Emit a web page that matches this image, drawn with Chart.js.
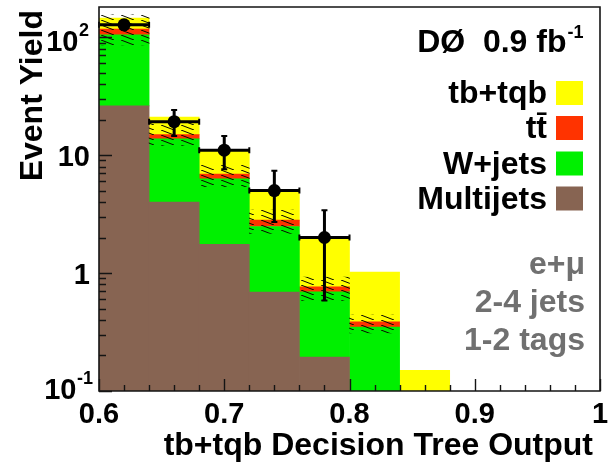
<!DOCTYPE html>
<html><head><meta charset="utf-8">
<script src="https://cdn.jsdelivr.net/npm/chart.js@4.4.1/dist/chart.umd.min.js"></script>
<style>html,body{margin:0;padding:0;background:#fff;}canvas{display:block;}</style>
</head><body>
<canvas id="c" width="614" height="465"></canvas>
<script>
// ---- data ----
const binCenters = [0.62, 0.66, 0.70, 0.74, 0.78, 0.82, 0.86];
const binWidth = 0.04;
const multijets = [26.1, 4.0, 1.75, 0.69, 0.193, 0, 0];
const wjets     = [78.5, 9.7, 4.55, 1.79, 0.50, 0.348, 0];
const ttbar     = [12.3, 1.2, 0.6, 0.33, 0.07, 0.036, 0];
const signal    = [28.0, 6.1, 4.1, 2.17, 1.26, 0.636, 0.149];
const bandLo    = [86, 12.1, 5.4, 2.17, 0.586, 0.31, null];
const bandHi    = [154.6, 19.1, 8.2, 3.41, 0.925, 0.44, null];
const dataX     = [0.62, 0.66, 0.70, 0.74, 0.78];
const dataY     = [127, 19.2, 11.0, 5.0, 2.0];
const dataErrLo = [116, 14.5, 7.6, 2.71, 0.586];
const dataErrHi = [138, 24.1, 14.5, 7.36, 3.41];
const xTickValues = [0.6, 0.7, 0.8, 0.9, 1.0];
const xTickLabels = ['0.6', '0.7', '0.8', '0.9', '1'];
const yTickValues = [0.1, 1, 10, 100];
const yTickLabels = [['10', '-1'], ['1', ''], ['10', ''], ['10', '2']];
const legendLabels = ['tb+tqb', 'tt\u0304', 'W+jets', 'Multijets'];
const infoLines = ['e+\u03bc', '2-4 jets', '1-2 tags'];

const X_MIN = 0.6, X_MAX = 1.0, Y_MIN = 0.1, Y_MAX = 180;
const PAD = { left: 99, right: 14, top: 7, bottom: 74 };
const COLORS = { signal: '#ffff00', ttbar: '#ff3300', wjets: '#00f000', multi: '#876452' };
const AXIS_COLOR = '#141414';
const FONT = '"Liberation Sans", Arial, Helvetica, sans-serif';

// cumulative floating bars
const FLOOR = 0.001;
const series = [multijets, wjets, ttbar, signal];
const seriesColors = [COLORS.multi, COLORS.wjets, COLORS.ttbar, COLORS.signal];
const cum = binCenters.map(() => FLOOR);
const stackDatasets = series.map((vals, s) => {
  const d = binCenters.map((x, i) => {
    const lo = cum[i];
    const hi = cum[i] + vals[i];
    cum[i] = hi;
    return { x: x, y: [lo, hi] };
  });
  return { type: 'bar', data: d, backgroundColor: seriesColors[s], borderWidth: 0, order: 3 };
});

// hatch pattern for the background uncertainty band
function makeHatch() {
  const c = document.createElement('canvas');
  c.width = 20; c.height = 5;
  const g = c.getContext('2d');
  g.strokeStyle = 'rgba(10,10,0,1)';
  g.lineWidth = 1;
  g.beginPath(); g.moveTo(1, 0); g.lineTo(14, 5); g.stroke();
  return g.createPattern(c, 'repeat');
}
const bandData = binCenters.map((x, i) => ({ x: x, y: bandLo[i] == null ? null : [bandLo[i], bandHi[i]] }));

function drawFrameAndTicks(chart) {
  const ctx = chart.ctx;
  const x = chart.scales.x, y = chart.scales.y;
  const L = x.getPixelForValue(X_MIN), R = x.getPixelForValue(X_MAX);
  const B = y.getPixelForValue(Y_MIN), T = y.getPixelForValue(Y_MAX);
  ctx.save();
  ctx.strokeStyle = AXIS_COLOR;
  ctx.lineWidth = 1.4;
  ctx.beginPath();
  for (let k = 0; k <= 20; k++) {
    const px = Math.round(x.getPixelForValue(X_MIN + 0.02 * k)) + 0.5;
    const len = (k % 5 === 0) ? 12 : 6;
    ctx.moveTo(px, B);
    ctx.lineTo(px, B - len);
  }
  for (let d = -1; d <= 2; d++) {
    for (let m = 1; m <= 9; m++) {
      const v = m * Math.pow(10, d);
      if (v > Y_MAX) continue;
      const py = Math.round(y.getPixelForValue(v)) + 0.5;
      const len = (m === 1) ? 13 : 7;
      ctx.moveTo(L, py);
      ctx.lineTo(L + len, py);
    }
  }
  ctx.stroke();
  ctx.lineWidth = 1.6;
  ctx.beginPath();
  ctx.rect(L, T, R - L, B - T);
  ctx.stroke();
  ctx.restore();
}

const overlay = {
  id: 'overlay',
  afterDatasetsDraw(chart) {
    const ctx = chart.ctx;
    const x = chart.scales.x, y = chart.scales.y;
    ctx.save();
    ctx.strokeStyle = '#000';
    dataX.forEach((xv, i) => {
      const px = x.getPixelForValue(xv);
      const xl = x.getPixelForValue(xv - binWidth / 2);
      const xr = x.getPixelForValue(xv + binWidth / 2);
      const py = y.getPixelForValue(dataY[i]);
      const yt = y.getPixelForValue(dataErrHi[i]);
      const yb = y.getPixelForValue(dataErrLo[i]);
      ctx.lineWidth = 3;
      ctx.beginPath();
      ctx.moveTo(xl, py); ctx.lineTo(xr, py);
      ctx.moveTo(px, yt); ctx.lineTo(px, yb);
      ctx.stroke();
      ctx.lineWidth = 2;
      ctx.beginPath();
      ctx.moveTo(xl, py - 3); ctx.lineTo(xl, py + 3);
      ctx.moveTo(xr, py - 3); ctx.lineTo(xr, py + 3);
      ctx.moveTo(px - 3, yt); ctx.lineTo(px + 3, yt);
      ctx.moveTo(px - 3, yb); ctx.lineTo(px + 3, yb);
      ctx.stroke();
    });
    ctx.restore();
  },
  afterDraw(chart) {
    const ctx = chart.ctx;
    const x = chart.scales.x, y = chart.scales.y;
    drawFrameAndTicks(chart);
    ctx.save();
    ctx.fillStyle = '#000';
    ctx.textBaseline = 'alphabetic';
    // x tick labels
    ctx.font = 'bold 29px ' + FONT;
    ctx.textAlign = 'center';
    xTickValues.forEach((v, i) => ctx.fillText(xTickLabels[i], x.getPixelForValue(v), 423));
    // y tick labels
    yTickValues.forEach((v, i) => {
      const py = y.getPixelForValue(v);
      const base = yTickLabels[i][0], sup = yTickLabels[i][1];
      ctx.textAlign = 'right';
      if (!sup) {
        ctx.font = 'bold 29px ' + FONT;
        ctx.fillText(base, 90, py + 10.5);
      } else {
        ctx.font = 'bold 18px ' + FONT;
        const ws = ctx.measureText(sup).width;
        const right = sup === '2' ? 89 : 93;
        const shift = sup === '2' ? 14 : 7.5;
        ctx.textAlign = 'left';
        ctx.fillText(sup, right - ws, py + shift - 15);
        ctx.font = 'bold 29px ' + FONT;
        ctx.textAlign = 'right';
        ctx.fillText(base, right - ws - 0.5, py + shift);
      }
    });
    // axis titles
    ctx.font = 'bold 32px ' + FONT;
    ctx.textAlign = 'right';
    ctx.fillText('tb+tqb Decision Tree Output', 593, 455);
    ctx.save();
    ctx.translate(42, 10);
    ctx.rotate(-Math.PI / 2);
    ctx.fillText('Event Yield', 0, 0);
    ctx.restore();
    // experiment label
    ctx.font = 'bold 32px ' + FONT;
    ctx.textAlign = 'right';
    ctx.fillText('D\u00d8  0.9 fb', 566.5, 52);
    ctx.font = 'bold 18px ' + FONT;
    ctx.textAlign = 'left';
    ctx.fillText('-1', 567.5, 38);
    // legend
    const legColors = [COLORS.signal, COLORS.ttbar, COLORS.wjets, COLORS.multi];
    const baselines = [103, 138, 173.5, 208.5];
    ctx.font = 'bold 32px ' + FONT;
    legendLabels.forEach((t, i) => {
      ctx.fillStyle = '#000';
      ctx.textAlign = 'right';
      ctx.fillText(t, 547, baselines[i]);
      ctx.fillStyle = legColors[i];
      ctx.fillRect(556, baselines[i] - 22, 27, 24);
    });
    // info text
    ctx.fillStyle = '#707070';
    ctx.textAlign = 'right';
    const infoBase = [274, 311.7, 350];
    infoLines.forEach((t, i) => ctx.fillText(t, 585, infoBase[i]));
    ctx.restore();
  }
};

new Chart(document.getElementById('c'), {
  type: 'bar',
  data: {
    datasets: [
      { type: 'line', data: dataX.map((xv, i) => ({ x: xv, y: dataY[i] })), showLine: false,
        pointRadius: 6.5, pointBackgroundColor: '#000', pointBorderColor: '#000', pointBorderWidth: 0, order: 0 },
      { type: 'bar', data: bandData, backgroundColor: makeHatch(), borderWidth: 0, order: 1 },
      ...stackDatasets
    ]
  },
  options: {
    responsive: false,
    devicePixelRatio: 1,
    animation: false,
    events: [],
    layout: { padding: PAD },
    datasets: { bar: { grouped: false, barPercentage: 1, categoryPercentage: 1 } },
    plugins: { legend: { display: false }, tooltip: { enabled: false } },
    scales: {
      x: { type: 'linear', offset: false, min: X_MIN, max: X_MAX, display: false, ticks: { stepSize: 0.1 } },
      y: { type: 'logarithmic', min: Y_MIN, max: Y_MAX, display: false }
    }
  },
  plugins: [overlay]
});
</script>
</body></html>
